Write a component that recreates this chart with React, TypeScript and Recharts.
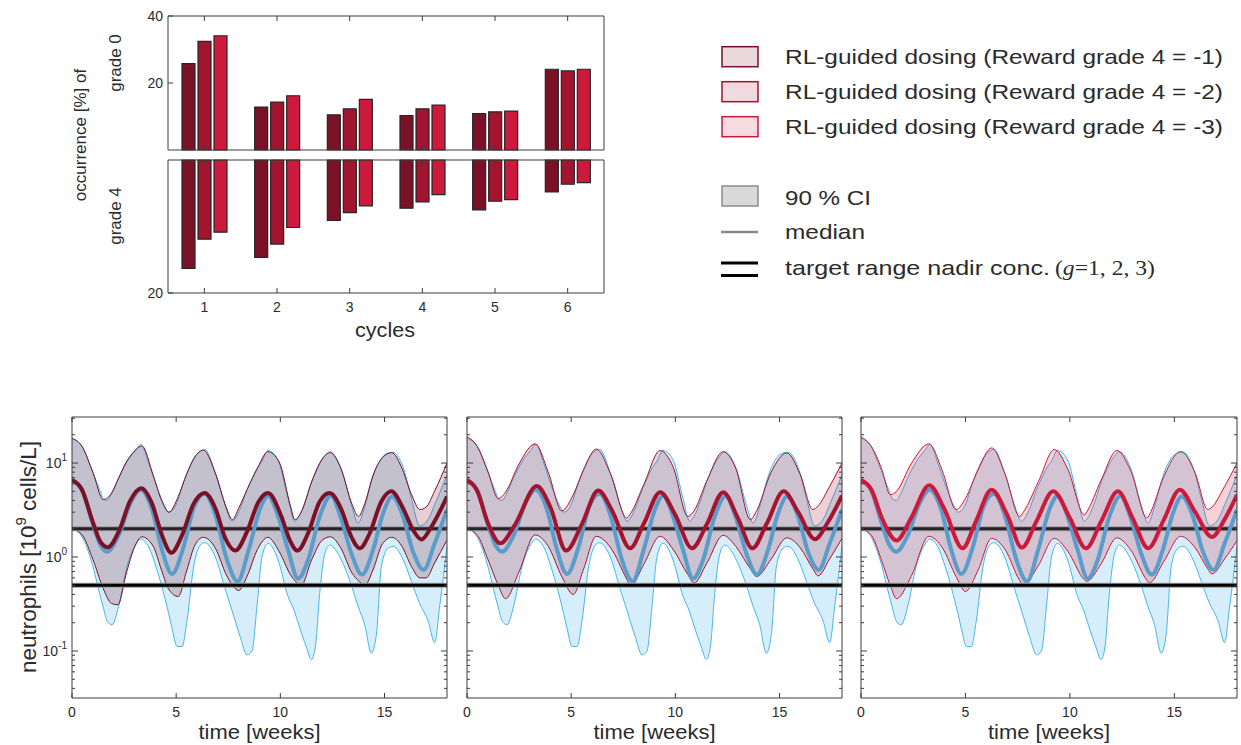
import {
  Area,
  Bar,
  BarChart,
  ComposedChart,
  Line,
  ReferenceLine,
  XAxis,
  YAxis,
} from "recharts";

const FONT = "'Liberation Sans', Arial, Helvetica, sans-serif";
const INK = "#2b2b2b";
const AXIS = "#3c3c3c";

// occurrence of grade 0 / grade 4 per cycle
const cycles = ["1", "2", "3", "4", "5", "6"];
const grade0Reward1 = [25.8, 12.8, 10.5, 10.3, 10.9, 24.1];
const grade0Reward2 = [32.4, 14.3, 12.3, 12.3, 11.4, 23.6];
const grade0Reward3 = [34.1, 16.2, 15.1, 13.4, 11.6, 24.1];
const grade4Reward1 = [16.3, 14.65, 9.1, 7.25, 7.5, 4.8];
const grade4Reward2 = [11.9, 12.65, 7.9, 6.3, 6.2, 3.65];
const grade4Reward3 = [10.85, 10.15, 6.9, 5.2, 5.95, 3.4];
const grade0Ticks = [20, 40];
const grade4Ticks = [20];

// neutrophil time courses (weeks, 10^9 cells/L)
const timeTicks = [0, 5, 10, 15];
const logTicks = [
  0.04, 0.05, 0.06, 0.07, 0.08, 0.09, 0.1, 0.2, 0.3, 0.4, 0.5, 0.6, 0.7, 0.8,
  0.9, 1, 2, 3, 4, 5, 6, 7, 8, 9, 10, 20, 30,
];
const majorTicks = [0.1, 1, 10];
const majorExponents = ["-1", "0", "1"];
const targetLevels = [2, 0.5];

// reference dosing (blue), same in all three panels
const refBandTime = [
  0, 0.48, 0.96, 1.36, 1.52, 1.68, 1.92, 2.24, 2.64, 3.04, 3.3, 3.68, 4.08,
  4.48, 4.64, 4.8, 5.04, 5.28, 5.52, 5.84, 6.16, 6.36, 6.88, 7.36, 7.68, 8.08,
  8.4, 8.64, 8.88, 9.12, 9.41, 9.89, 10.37, 10.69, 10.85, 11.25, 11.49, 11.68,
  11.89, 12.13, 12.37, 12.93, 13.41, 13.73, 14.05, 14.37, 14.61, 14.85, 15.17,
  15.41, 15.97, 16.29, 16.69, 17.09, 17.41, 17.65, 18,
];
const refBandLow = [
  2.0, 1.64, 0.86, 0.38, 0.28, 0.21, 0.19, 0.3, 0.79, 1.34, 1.55, 1.28, 0.73,
  0.35, 0.25, 0.175, 0.112, 0.111, 0.21, 0.79, 1.34, 1.42, 1.0, 0.45, 0.27,
  0.14, 0.091, 0.1, 0.3, 1.0, 1.4, 0.93, 0.38, 0.26, 0.2, 0.11, 0.081, 0.11,
  0.41, 1.07, 1.34, 0.93, 0.5, 0.3, 0.19, 0.095, 0.15, 0.79, 1.24, 1.3, 0.86,
  0.55, 0.32, 0.21, 0.123, 0.3, 1.3,
];
const refBandHigh = [
  18.5, 15, 8.4, 5.0, 4.1, 4.0, 4.8, 7.0, 10.3, 13.5, 15.8, 10, 5.5, 3.4, 3.0,
  3.1, 3.8, 5.6, 7.8, 11.2, 13.4, 14, 7.8, 3.5, 2.4, 3.3, 5.2, 6.8, 8.8, 10.5,
  13.6, 10.8, 4.2, 2.4, 2.6, 4.2, 6.2, 7.8, 9.8, 11.8, 13.2, 8.6, 3.6, 2.3, 3.4,
  6.3, 9.0, 11.2, 12.8, 13, 8.0, 4.2, 2.15, 2.5, 3.6, 4.8, 7.5,
];
const refMedianTime = [
  0, 0.48, 0.96, 1.36, 1.68, 2.24, 2.8, 3.28, 3.84, 4.32, 4.8, 5.36, 5.84, 6.37,
  6.88, 7.44, 7.95, 8.48, 9.04, 9.41, 9.89, 10.37, 10.85, 11.33, 11.89, 12.42,
  12.93, 13.41, 13.92, 14.45, 14.93, 15.36, 15.89, 16.37, 16.88, 17.41, 18,
];
const refMedian = [
  6.6, 5.2, 2.4, 1.34, 1.14, 1.7, 3.7, 5.2, 3.2, 1.19, 0.66, 1.29, 3.3, 4.7,
  2.8, 0.93, 0.55, 1.19, 3.3, 4.5, 2.7, 1.19, 0.59, 0.93, 2.7, 4.5, 2.5, 1.09,
  0.65, 1.19, 2.9, 4.4, 2.7, 1.14, 0.73, 1.4, 3.2,
];

// RL-guided dosing, reward grade 4 = -1
const rl1BandTime = [
  0, 0.5, 1.0, 1.5, 1.9, 2.2, 2.6, 3.0, 3.35, 3.9, 4.3, 4.65, 5.1, 5.5, 5.9,
  6.3, 6.9, 7.4, 7.7, 8.0, 8.4, 8.9, 9.4, 9.95, 10.5, 10.7, 11.0, 11.5, 12.0,
  12.4, 12.9, 13.45, 13.75, 14.05, 14.45, 14.9, 15.35, 15.8, 16.3, 16.7, 17.0,
  17.4, 18,
];
const rl1BandLow = [
  2.0, 1.7, 0.95, 0.46, 0.32, 0.31, 0.66, 1.27, 1.64, 1.3, 0.72, 0.45, 0.38,
  0.71, 1.34, 1.62, 1.22, 0.65, 0.5, 0.44, 0.62, 1.2, 1.62, 1.14, 0.64, 0.56,
  0.5, 0.93, 1.5, 1.64, 1.25, 0.67, 0.56, 0.5, 0.73, 1.38, 1.62, 1.34, 0.79,
  0.6, 0.6, 0.86, 1.52,
];
const rl1BandHigh = [
  18.3, 14.8, 8.0, 4.1, 4.8, 6.6, 10.2, 13.4, 15.2, 7.4, 4.0, 3.0, 4.4, 7.6,
  11.6, 13.7, 7.6, 3.4, 2.5, 3.3, 5.2, 8.8, 13.2, 10.2, 3.4, 2.5, 3.0, 6.3, 11,
  12.9, 8.8, 3.6, 2.7, 3.7, 7.4, 11.4, 12.9, 9.2, 4.6, 3.2, 3.4, 5.0, 10,
];
const rl1MedianTime = [
  0, 0.48, 0.96, 1.36, 1.73, 2.24, 2.8, 3.33, 3.84, 4.32, 4.77, 5.28, 5.84,
  6.37, 6.88, 7.36, 7.84, 8.4, 8.96, 9.41, 10.05, 10.45, 10.82, 11.33, 11.89,
  12.37, 12.93, 13.41, 13.81, 14.29, 14.85, 15.33, 15.89, 16.37, 16.77, 17.25,
  17.73, 18,
];
const rl1Median = [
  6.6, 5.2, 2.5, 1.46, 1.27, 1.86, 4.0, 5.4, 3.7, 1.7, 1.11, 1.7, 3.7, 4.8, 3.3,
  1.58, 1.17, 1.86, 3.9, 4.8, 2.7, 1.52, 1.17, 1.79, 3.9, 4.8, 3.2, 1.64, 1.24,
  1.79, 3.9, 5.0, 3.3, 1.94, 1.54, 2.1, 3.3, 4.4,
];

// RL-guided dosing, reward grade 4 = -2
const rl2BandTime = [
  0, 0.5, 1.0, 1.5, 1.85, 2.5, 3.27, 3.9, 4.55, 5.1, 5.6, 6.2, 6.9, 7.67, 7.85,
  8.5, 9.27, 9.9, 10.6, 10.9, 11.5, 12.3, 12.9, 13.6, 13.9, 14.6, 15.35, 16.0,
  16.6, 16.85, 17.4, 18,
];
const rl2BandLow = [
  2.0, 1.7, 0.95, 0.5, 0.36, 0.7, 1.72, 1.3, 0.62, 0.4, 0.75, 1.66, 1.25, 0.58,
  0.49, 0.85, 1.66, 1.2, 0.65, 0.53, 0.85, 1.7, 1.3, 0.75, 0.62, 0.95, 1.6,
  1.25, 0.75, 0.63, 0.95, 1.58,
];
const rl2BandHigh = [
  19, 15, 8.2, 4.2, 4.9, 9.8, 16, 8.0, 3.1, 4.6, 8.5, 14.1, 7.6, 2.6, 2.9, 6.0,
  13.6, 9.0, 2.7, 3.1, 6.4, 13.2, 8.8, 2.5, 3.1, 8.0, 12.8, 7.5, 3.2, 3.5, 5.6,
  10,
];
const rl2MedianTime = [
  0, 0.5, 1.0, 1.6, 2.3, 3.35, 4.0, 4.76, 5.5, 6.3, 7.0, 7.83, 8.5, 9.27, 10.0,
  10.8, 11.5, 12.3, 13.0, 13.7, 14.4, 15.2, 15.9, 16.7, 17.3, 18,
];
const rl2Median = [
  6.6, 5.0, 2.3, 1.4, 2.2, 5.7, 3.4, 1.17, 2.2, 5.1, 3.0, 1.24, 2.3, 4.9, 2.8,
  1.24, 2.2, 4.9, 2.6, 1.24, 2.3, 5.0, 3.0, 1.55, 2.3, 4.5,
];

// RL-guided dosing, reward grade 4 = -3
const rl3BandTime = [
  0, 0.5, 1.0, 1.4, 1.7, 2.4, 3.25, 3.9, 4.55, 5.0, 5.6, 6.25, 6.9, 7.6, 7.77,
  8.5, 9.25, 9.9, 10.7, 10.8, 11.5, 12.25, 12.9, 13.7, 13.8, 14.5, 15.3, 16.0,
  16.6, 16.8, 17.4, 18,
];
const rl3BandLow = [
  2.0, 1.7, 0.9, 0.5, 0.36, 0.62, 1.66, 1.25, 0.62, 0.43, 0.72, 1.58, 1.2,
  0.56, 0.5, 0.82, 1.58, 1.15, 0.57, 0.55, 0.85, 1.6, 1.2, 0.56, 0.53, 0.9,
  1.66, 1.25, 0.75, 0.66, 0.95, 1.5,
];
const rl3BandHigh = [
  19, 15, 8.5, 4.6, 5.0, 9.8, 16, 8.2, 3.2, 4.2, 8.4, 14.5, 7.6, 2.7, 3.0, 6.4,
  13.9, 8.6, 2.8, 3.0, 6.6, 13.6, 8.4, 2.6, 2.8, 7.2, 13.3, 7.8, 3.2, 3.4, 5.6,
  10,
];
const rl3MedianTime = [
  0, 0.5, 1.0, 1.7, 2.4, 3.27, 4.0, 4.86, 5.5, 6.25, 7.0, 7.7, 8.4, 9.2, 10.0,
  10.77, 11.5, 12.3, 13.0, 13.75, 14.5, 15.26, 16.0, 16.8, 17.4, 18,
];
const rl3Median = [
  6.6, 5.2, 2.6, 1.5, 2.6, 5.8, 3.2, 1.24, 2.4, 5.2, 2.8, 1.26, 2.4, 5.0, 2.6,
  1.24, 2.4, 5.0, 2.6, 1.24, 2.5, 5.2, 3.0, 1.63, 2.5, 4.6,
];

const RL_COLORS = ["#7b1127", "#a3142f", "#cc1a3c"];
const LEGEND_FILLS = ["#e9d9dd", "#eedadf", "#f6dce1"];
const REF_FILL = "#d6eef9";
const REF_EDGE = "#47b6ea";
const REF_MEDIAN = "#5a9dca";
const LOG_DOMAIN = [0.0316, 30.9];

const bandRows = (t: number[], low: number[], high: number[]) =>
  t.map((x, i) => ({ t: x, low: low[i], high: high[i] }));
const lineRows = (t: number[], v: number[]) =>
  t.map((x, i) => ({ t: x, v: v[i] }));

const grade0Rows = cycles.map((c, i) => ({
  cycle: c,
  r1: grade0Reward1[i],
  r2: grade0Reward2[i],
  r3: grade0Reward3[i],
}));
const grade4Rows = cycles.map((c, i) => ({
  cycle: c,
  r1: grade4Reward1[i],
  r2: grade4Reward2[i],
  r3: grade4Reward3[i],
}));

const refBand = bandRows(refBandTime, refBandLow, refBandHigh);
const refLine = lineRows(refMedianTime, refMedian);
const panels = [
  {
    left: 0,
    width: 460,
    axisWidth: 72,
    right: 12,
    band: bandRows(rl1BandTime, rl1BandLow, rl1BandHigh),
    median: lineRows(rl1MedianTime, rl1Median),
  },
  {
    left: 400,
    width: 460,
    axisWidth: 67,
    right: 17,
    band: bandRows(rl2BandTime, rl2BandLow, rl2BandHigh),
    median: lineRows(rl2MedianTime, rl2Median),
  },
  {
    left: 800,
    width: 441,
    axisWidth: 61,
    right: 3,
    band: bandRows(rl3BandTime, rl3BandLow, rl3BandHigh),
    median: lineRows(rl3MedianTime, rl3Median),
  },
];

type TickProps = {
  x?: number;
  y?: number;
  payload?: { value: any };
  labels?: boolean;
  side?: "left" | "right";
  len?: number;
};

// ticks point into the plot, matlab style
function BottomTick({ x = 0, y = 0, payload, labels, len = 5 }: TickProps) {
  return (
    <g>
      <line x1={x} x2={x} y1={y} y2={y - len} stroke={AXIS} />
      {labels && (
        <text x={x} y={y + 19} textAnchor="middle" fontSize={14} fill={INK}>
          {payload?.value}
        </text>
      )}
    </g>
  );
}

function TopTick({ x = 0, y = 0, len = 5 }: TickProps) {
  return <line x1={x} x2={x} y1={y} y2={y + len} stroke={AXIS} />;
}

function LinTick({ x = 0, y = 0, payload, labels, side = "left" }: TickProps) {
  const dir = side === "left" ? 1 : -1;
  return (
    <g>
      <line x1={x} x2={x + dir * 5} y1={y} y2={y} stroke={AXIS} />
      {labels && (
        <text x={x - 5} y={y + 5} textAnchor="end" fontSize={14} fill={INK}>
          {payload?.value}
        </text>
      )}
    </g>
  );
}

function LogTick({ x = 0, y = 0, payload, labels, side = "left" }: TickProps) {
  const idx = majorTicks.indexOf(payload?.value);
  const dir = side === "left" ? 1 : -1;
  const len = idx >= 0 ? 6 : 3;
  return (
    <g>
      <line x1={x} x2={x + dir * len} y1={y} y2={y} stroke={AXIS} />
      {labels && idx >= 0 && (
        <text x={x - 5} y={y + 5} textAnchor="end" fontSize={14} fill={INK}>
          10
          <tspan dy={-7} fontSize={10}>
            {majorExponents[idx]}
          </tspan>
        </text>
      )}
    </g>
  );
}

const range = (d: { low: number; high: number }) => [d.low, d.high];

function NeutrophilPanel({ index }: { index: number }) {
  const p = panels[index];
  const color = RL_COLORS[index];
  return (
    <div style={{ position: "absolute", left: p.left, top: 400 }}>
      <ComposedChart
        width={p.width}
        height={345}
        margin={{ top: 16, right: p.right, bottom: 17, left: 0 }}
      >
        <XAxis
          xAxisId="b"
          type="number"
          dataKey="t"
          domain={[0, 18]}
          ticks={timeTicks}
          interval={0}
          allowDataOverflow
          height={30}
          stroke={AXIS}
          tickLine={false}
          tickSize={0}
          tickMargin={0}
          tick={<BottomTick labels />}
        />
        <XAxis
          xAxisId="top"
          orientation="top"
          type="number"
          dataKey="t"
          domain={[0, 18]}
          ticks={timeTicks}
          interval={0}
          allowDataOverflow
          height={1}
          stroke={AXIS}
          tickLine={false}
          tickSize={0}
          tickMargin={0}
          tick={<TopTick />}
        />
        <YAxis
          yAxisId="l"
          scale="log"
          type="number"
          domain={LOG_DOMAIN}
          ticks={logTicks}
          interval={0}
          allowDataOverflow
          width={p.axisWidth}
          stroke={AXIS}
          tickLine={false}
          tickSize={0}
          tickMargin={0}
          tick={<LogTick side="left" labels={index === 0} />}
        />
        <YAxis
          yAxisId="r"
          orientation="right"
          scale="log"
          type="number"
          domain={LOG_DOMAIN}
          ticks={logTicks}
          interval={0}
          allowDataOverflow
          width={1}
          stroke={AXIS}
          tickLine={false}
          tickSize={0}
          tickMargin={0}
          tick={<LogTick side="right" />}
        />
        <Area
          xAxisId="b"
          yAxisId="l"
          data={refBand}
          dataKey={range}
          type="monotone"
          fill={REF_FILL}
          fillOpacity={1}
          stroke={REF_EDGE}
          strokeWidth={1}
          isAnimationActive={false}
        />
        <Area
          xAxisId="b"
          yAxisId="l"
          data={p.band}
          dataKey={range}
          type="monotone"
          fill={color}
          fillOpacity={0.2}
          stroke={color}
          strokeWidth={1}
          isAnimationActive={false}
        />
        {targetLevels.map((level) => (
          <ReferenceLine
            key={`h${level}`}
            xAxisId="b"
            yAxisId="l"
            y={level}
            stroke="#9c9c9c"
            strokeWidth={5}
          />
        ))}
        {targetLevels.map((level, i) => (
          <ReferenceLine
            key={`c${level}`}
            xAxisId="b"
            yAxisId="l"
            y={level}
            stroke={i === 0 ? "#2a2029" : "#000"}
            strokeWidth={3}
          />
        ))}
        <Line
          xAxisId="b"
          yAxisId="l"
          data={refLine}
          dataKey="v"
          type="monotone"
          stroke={REF_MEDIAN}
          strokeWidth={4}
          dot={false}
          isAnimationActive={false}
        />
        <Line
          xAxisId="b"
          yAxisId="l"
          data={p.median}
          dataKey="v"
          type="monotone"
          stroke={color}
          strokeWidth={4}
          dot={false}
          isAnimationActive={false}
        />
      </ComposedChart>
    </div>
  );
}

function OccurrenceBars({
  rows,
  top,
  height,
  margin,
  max,
  ticks,
  lower,
}: {
  rows: typeof grade0Rows;
  top: number;
  height: number;
  margin: { top: number; right: number; bottom: number; left: number };
  max: number;
  ticks: number[];
  lower: boolean;
}) {
  return (
    <div style={{ position: "absolute", left: 0, top }}>
      <BarChart
        width={620}
        height={height}
        data={rows}
        margin={margin}
        barGap={3}
      >
        <XAxis
          xAxisId="b"
          dataKey="cycle"
          interval={0}
          height={lower ? 25 : 1}
          stroke={AXIS}
          tickLine={false}
          tickSize={0}
          tickMargin={0}
          tick={<BottomTick labels={lower} />}
        />
        <XAxis
          xAxisId="top"
          orientation="top"
          dataKey="cycle"
          interval={0}
          height={1}
          stroke={AXIS}
          tickLine={false}
          tickSize={0}
          tickMargin={0}
          tick={<TopTick />}
        />
        <YAxis
          yAxisId="l"
          type="number"
          domain={[0, max]}
          ticks={ticks}
          interval={0}
          reversed={lower}
          width={168}
          stroke={AXIS}
          tickLine={false}
          tickSize={0}
          tickMargin={0}
          tick={<LinTick side="left" labels />}
        />
        <YAxis
          yAxisId="r"
          orientation="right"
          type="number"
          domain={[0, max]}
          ticks={ticks}
          interval={0}
          reversed={lower}
          width={1}
          stroke={AXIS}
          tickLine={false}
          tickSize={0}
          tickMargin={0}
          tick={<LinTick side="right" />}
        />
        {["r1", "r2", "r3"].map((key, i) => (
          <Bar
            key={key}
            xAxisId="b"
            yAxisId="l"
            dataKey={key}
            barSize={13}
            fill={RL_COLORS[i]}
            stroke="#262626"
            strokeWidth={1.2}
            isAnimationActive={false}
          />
        ))}
      </BarChart>
    </div>
  );
}

const legendRows = [
  "RL-guided dosing (Reward grade 4 = -1)",
  "RL-guided dosing (Reward grade 4 = -2)",
  "RL-guided dosing (Reward grade 4 = -3)",
];
const legendRowY = [56.7, 91.7, 126.7];

function Labels() {
  return (
    <svg
      width={1241}
      height={745}
      style={{ position: "absolute", left: 0, top: 0, pointerEvents: "none" }}
      fill={INK}
    >
      <text
        transform="translate(80,135) rotate(-90)"
        textAnchor="middle"
        dominantBaseline="central"
        fontSize={17}
      >
        occurrence [%] of
      </text>
      <text
        transform="translate(115,63) rotate(-90)"
        textAnchor="middle"
        dominantBaseline="central"
        fontSize={17}
      >
        grade 0
      </text>
      <text
        transform="translate(115,216) rotate(-90)"
        textAnchor="middle"
        dominantBaseline="central"
        fontSize={17}
      >
        grade 4
      </text>
      <text x={355} y={337} fontSize={20} textLength={60} lengthAdjust="spacingAndGlyphs">
        cycles
      </text>
      <text
        transform="translate(28,557) rotate(-90)"
        textAnchor="middle"
        dominantBaseline="central"
        fontSize={22.5}
      >
        neutrophils [10
        <tspan dy={-8} fontSize={15}>
          9
        </tspan>
        <tspan dy={8}> cells/L]</tspan>
      </text>
      {[259.5, 654.5, 1049].map((cx) => (
        <text
          key={cx}
          x={cx - 61}
          y={739}
          fontSize={21}
          textLength={122}
          lengthAdjust="spacingAndGlyphs"
        >
          time [weeks]
        </text>
      ))}

      {legendRows.map((label, i) => (
        <g key={label}>
          <rect
            x={722}
            y={legendRowY[i] - 10}
            width={36}
            height={20}
            fill={LEGEND_FILLS[i]}
            stroke={RL_COLORS[i]}
            strokeWidth={1.5}
          />
          <text
            x={785}
            y={legendRowY[i] + 7.5}
            fontSize={21}
            textLength={438}
            lengthAdjust="spacingAndGlyphs"
          >
            {label}
          </text>
        </g>
      ))}
      <rect x={722} y={186} width={36} height={20} fill="#d9d9d9" stroke="#8a8a8a" strokeWidth={1.5} />
      <text x={785} y={205} fontSize={21} textLength={86} lengthAdjust="spacingAndGlyphs">
        90 % CI
      </text>
      <line x1={721} x2={758} y1={232} y2={232} stroke="#8a8a8a" strokeWidth={2.5} />
      <text x={785} y={239} fontSize={21} textLength={80} lengthAdjust="spacingAndGlyphs">
        median
      </text>
      <line x1={721} x2={758} y1={263} y2={263} stroke="#000" strokeWidth={3} />
      <line x1={721} x2={758} y1={275.5} y2={275.5} stroke="#000" strokeWidth={3} />
      <text x={785} y={275} fontSize={21} textLength={265} lengthAdjust="spacingAndGlyphs">
        target range nadir conc.
      </text>
      <text
        x={1055}
        y={275}
        fontSize={21}
        fontFamily="'Liberation Serif', 'DejaVu Serif', serif"
        textLength={100}
        lengthAdjust="spacingAndGlyphs"
      >
        (<tspan fontStyle="italic">g</tspan>=1, 2, 3)
      </text>
    </svg>
  );
}

export default function App() {
  return (
    <div
      style={{
        position: "absolute",
        left: 0,
        top: 0,
        width: 1241,
        height: 745,
        background: "#fff",
        fontFamily: FONT,
        overflow: "hidden",
      }}
    >
      <OccurrenceBars
        rows={grade0Rows}
        top={0}
        height={152}
        margin={{ top: 15, right: 15, bottom: 1, left: 0 }}
        max={40}
        ticks={grade0Ticks}
        lower={false}
      />
      <OccurrenceBars
        rows={grade4Rows}
        top={150}
        height={200}
        margin={{ top: 9, right: 15, bottom: 32, left: 0 }}
        max={20}
        ticks={grade4Ticks}
        lower
      />
      {panels.map((_, i) => (
        <NeutrophilPanel key={i} index={i} />
      ))}
      <Labels />
    </div>
  );
}
